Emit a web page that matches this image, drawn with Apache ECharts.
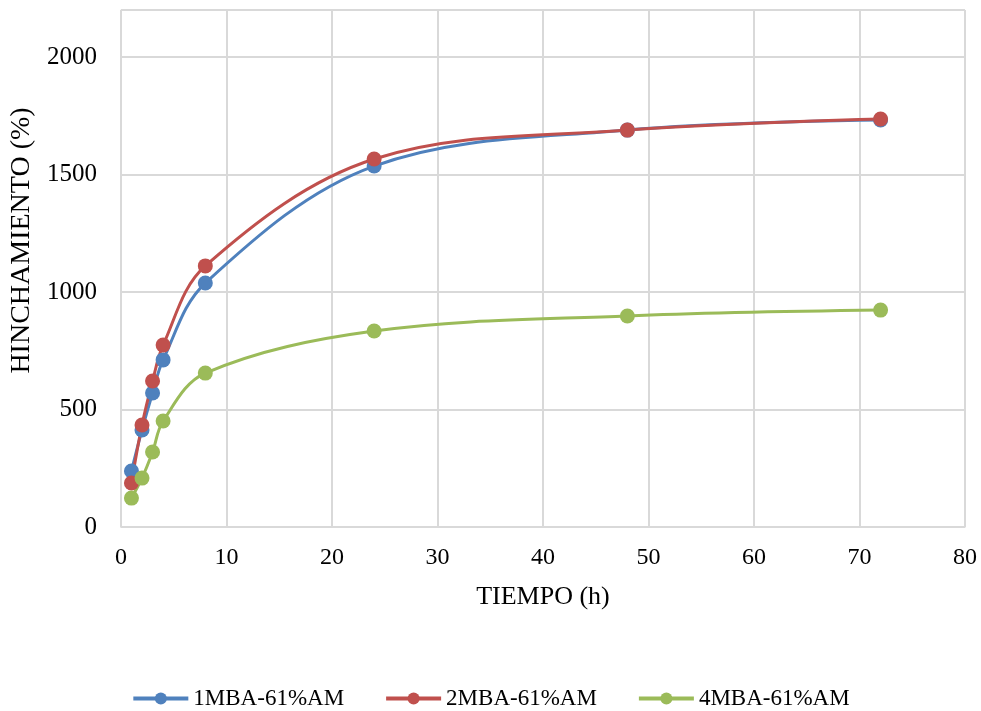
<!DOCTYPE html>
<html><head><meta charset="utf-8">
<script src="https://cdn.jsdelivr.net/npm/echarts@6/dist/echarts.min.js"></script>
<style>html,body{margin:0;padding:0;background:#fff}#c{width:981px;height:711px}</style>
</head><body><div id="c"></div>
<script>
const hours = [1, 2, 3, 4, 8, 24, 48, 72];
const s1 = [238, 413, 570, 711, 1038, 1536, 1689, 1732];
const s2 = [187, 434, 621, 774, 1111, 1566, 1689, 1736];
const s4 = [123, 208, 319, 451, 655, 834, 898, 923];
const names = ['1MBA-61%AM', '2MBA-61%AM', '4MBA-61%AM'];
const colors = ['#4f81bd', '#c0504d', '#9bbb59'];
const FONT = 'Liberation Serif';
const chart = echarts.init(document.getElementById('c'));
const mk = (name, vals, color) => ({
  name, type: 'line', smooth: 0.35,
  data: hours.map((h, i) => [h, vals[i]]),
  symbol: 'circle', symbolSize: 15,
  lineStyle: { width: 3, color }, itemStyle: { color }
});
chart.setOption({
  animation: false,
  grid: { left: 120, right: 16, top: 10, bottom: 184, show: true, borderColor: '#d9d9d9', borderWidth: 1 },
  xAxis: {
    type: 'value', min: 0, max: 80, interval: 10,
    name: 'TIEMPO (h)', nameLocation: 'middle', nameGap: 57,
    nameTextStyle: { fontFamily: FONT, fontSize: 26, color: '#000' },
    axisLine: { show: true, lineStyle: { color: '#d9d9d9' } },
    axisTick: { show: false },
    axisLabel: { fontFamily: FONT, fontSize: 24, color: '#000', margin: 19 },
    splitLine: { show: true, lineStyle: { color: '#d9d9d9', width: 2 } }
  },
  yAxis: {
    type: 'value', min: 0, max: 2200, interval: 500,
    name: 'HINCHAMIENTO (%)', nameLocation: 'middle', nameGap: 84,
    nameTextStyle: { fontFamily: FONT, fontSize: 28, color: '#000', padding: [0, 0, 0, 56] },
    axisLine: { show: true, lineStyle: { color: '#d9d9d9' } },
    axisTick: { show: false },
    axisLabel: { fontFamily: FONT, fontSize: 25, color: '#000', margin: 24,
      formatter: v => (v % 500 === 0 ? String(v) : '') },
    splitLine: { show: true, lineStyle: { color: '#d9d9d9', width: 2 } }
  },
  legend: {
    top: 682, left: 'center', itemGap: 40, itemWidth: 55, itemHeight: 15,
    textStyle: { fontFamily: FONT, fontSize: 23, color: '#000' },
    lineStyle: { width: 4 },
    data: names
  },
  series: [mk(names[0], s1, colors[0]), mk(names[1], s2, colors[1]), mk(names[2], s4, colors[2])]
});
</script></body></html>
